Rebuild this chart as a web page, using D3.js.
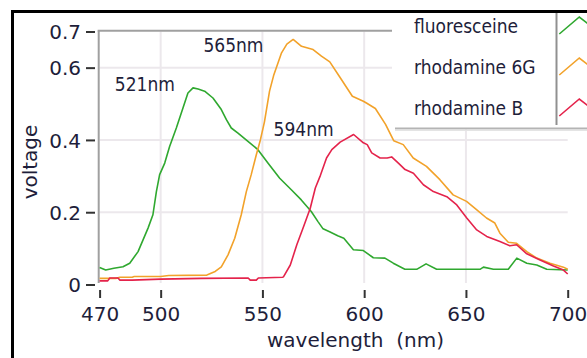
<!DOCTYPE html>
<html>
<head>
<meta charset="utf-8">
<script src="https://cdn.jsdelivr.net/npm/d3@7"></script>
<style>
  html, body { margin: 0; padding: 0; background: #fff; }
  svg { display: block; }
</style>
</head>
<body>
<svg id="chart" width="587" height="358"></svg>
<script>
// values: [wavelength nm, voltage]
var fluoresceine = [[470,.047],[473,.040],[477,.045],[481.5,.049],[484.8,.059],[488.9,.091],[493.8,.156],[496.2,.193],
  [497.9,.257],[499.5,.304],[502,.336],[504.4,.382],[507.7,.433],[511,.489],[513.4,.530],[515.9,.544],[518.4,.541],
  [521.6,.535],[525.7,.516],[529.8,.484],[532.3,.456],[534.7,.433],[538,.419],[542.9,.396],[547.8,.373],[552.7,.336],
  [558.5,.294],[564.2,.262],[569.1,.234],[574,.202],[577.3,.174],[579.8,.154],[583,.146],[587,.135],[590,.128],
  [594.7,.096],[599.6,.094],[604.5,.074],[610.2,.073],[614.3,.059],[620,.042],[625.8,.042],[630.4,.057],[635.6,.042],
  [656.9,.042],[658.6,.048],[663.5,.042],[670.8,.042],[675,.073],[679.9,.059],[684.8,.054],[689.7,.042],[700,.040]];
var rhodamine6G = [[470,.017],[478,.017],[480,.020],[486,.020],[487,.022],[500,.022],[504,.025],[522.7,.026],
  [526.8,.036],[529.8,.049],[533.1,.082],[536.4,.128],[539.6,.193],[542.1,.257],[544.5,.304],[547,.359],[549,.40],
  [551,.45],[553.5,.535],[555.5,.578],[559.4,.641],[562,.665],[565.1,.678],[569.2,.659],[574.9,.650],[579,.632],
  [583.1,.616],[588,.574],[594.2,.521],[599.6,.507],[601.1,.502],[605.5,.487],[610.5,.443],[614.5,.398],[619.2,.387],
  [624.1,.350],[630.6,.327],[637.2,.290],[643.7,.248],[650.3,.230],[655.2,.207],[660.1,.184],[664.2,.170],[666.7,.142],
  [670.8,.117],[674.9,.114],[679.9,.091],[684.8,.073],[691.3,.059],[697.9,.048],[700,.042]];
var rhodamineB = [[470,.010],[474,.010],[475,.018],[479,.018],[480,.012],[486,.012],[500,.015],[520,.017],[543,.018],
  [544,.012],[547,.012],[548,.018],[560,.020],[560.4,.022],[563.7,.054],[566.9,.110],[570.2,.160],[573.5,.211],
  [576,.267],[578.5,.302],[581.5,.350],[584.1,.373],[588.2,.394],[594.8,.415],[599.6,.392],[601.5,.387],[603.7,.364],
  [607.8,.350],[611.3,.350],[613.5,.353],[616.8,.336],[620.1,.318],[624.2,.308],[629.1,.276],[634,.257],[640.6,.243],
  [645.5,.220],[650.4,.184],[655.3,.151],[660.2,.133],[666.7,.119],[671.6,.107],[674.9,.110],[679.9,.085],[686.4,.068],
  [693,.051],[697.9,.040],[700,.029]];

var SERIES_NAMES = ['fluoresceine', 'rhodamine 6G', 'rhodamine B'];
var SERIES_COLORS = ['#2fa82f', '#f2a22a', '#e4234b'];
var X_TICKS = [470, 500, 550, 600, 650, 700];
var Y_TICKS = [0, 0.2, 0.4, 0.6, 0.7];
var X_GRID = [500, 550, 600, 650];
var Y_GRID = [0.2, 0.4, 0.6];
// peak labels: [text, wavelength, voltage] position of label
var PEAK_LABELS = [['521nm', 477.5, 0.535], ['565nm', 521, 0.643], ['594nm', 555.5, 0.410]];

var TEXTCOL = '#1e1e3a';
var svg = d3.select('#chart');
var x = d3.scaleLinear().domain([470, 700]).range([99.6, 567.7]);
var y = d3.scaleLinear().domain([0, 0.7]).range([284.5, 31.5]);

// outer frame (black, runs off the right/bottom)
svg.append('rect').attr('x', 12.5).attr('y', 11.5).attr('width', 600).attr('height', 400)
  .style('fill', 'none').style('stroke', '#000').style('stroke-width', 3);

// grid
var grid = svg.append('g');
grid.selectAll('.vg').data(X_GRID).enter().append('line')
  .attr('x1', function(d) { return x(d); }).attr('x2', function(d) { return x(d); })
  .attr('y1', y(0.7)).attr('y2', 283)
  .style('stroke', '#ece8ec').style('stroke-width', 2);
grid.selectAll('.hg').data(Y_GRID).enter().append('line')
  .attr('x1', x(470)).attr('x2', x(700))
  .attr('y1', function(d) { return y(d); }).attr('y2', function(d) { return y(d); })
  .style('stroke', '#ece8ec').style('stroke-width', 2);

// plot frame: left and top only
svg.append('line').attr('x1', 98.7).attr('x2', 98.7).attr('y1', 30.5).attr('y2', 283)
  .style('stroke', '#a0a0a0').style('stroke-width', 2);
svg.append('line').attr('x1', 97.7).attr('x2', 392).attr('y1', 30.7).attr('y2', 30.7)
  .style('stroke', '#a0a0a0').style('stroke-width', 2);

// axes (ticks detached from frame)
var yAxis = svg.append('g').attr('transform', 'translate(95,0)')
  .call(d3.axisLeft(y).tickValues(Y_TICKS).tickSize(9).tickPadding(5)
    .tickFormat(function(d) { return d === 0 ? '0' : d3.format('.1f')(d); }));
var xAxis = svg.append('g').attr('transform', 'translate(0,290)')
  .call(d3.axisBottom(x).tickValues(X_TICKS).tickSize(8).tickPadding(9).tickFormat(d3.format('d')));
[yAxis, xAxis].forEach(function(a) {
  a.select('.domain').remove();
  a.selectAll('line').style('stroke', '#333').style('stroke-width', 2);
  a.selectAll('text').style('font-family', '"DejaVu Sans", Verdana, sans-serif')
    .style('font-size', '20px').style('fill', TEXTCOL);
});
yAxis.selectAll('text').attr('dy', '0.36em');

// curves
var line = d3.line().x(function(d) { return x(d[0]); }).y(function(d) { return y(d[1]); });
[fluoresceine, rhodamine6G, rhodamineB].forEach(function(s, i) {
  svg.append('path').datum(s).attr('d', line)
    .style('fill', 'none').style('stroke', SERIES_COLORS[i]).style('stroke-width', 1.6)
    .style('stroke-linejoin', 'round');
});

// peak labels
svg.selectAll('.peak').data(PEAK_LABELS).enter().append('text')
  .attr('x', function(d) { return x(d[1]); }).attr('y', function(d) { return y(d[2]); })
  .text(function(d) { return d[0]; })
  .style('font-family', '"DejaVu Sans Condensed", "Liberation Sans", sans-serif')
  .style('font-size', '19px').style('fill', TEXTCOL);

// axis titles
svg.append('text').attr('x', 267).attr('y', 347).text('wavelength  (nm)')
  .style('white-space', 'pre')
  .style('font-family', '"DejaVu Sans", Verdana, sans-serif').style('font-size', '20px').style('fill', TEXTCOL);
svg.append('text').attr('transform', 'translate(37,162) rotate(-90)').attr('text-anchor', 'middle')
  .text('voltage')
  .style('font-family', '"DejaVu Sans", Verdana, sans-serif').style('font-size', '20px').style('fill', TEXTCOL);

// legend
var leg = svg.append('g');
leg.append('rect').attr('x', 392).attr('y', 13).attr('width', 200).attr('height', 115).style('fill', '#fff');
leg.append('line').attr('x1', 395).attr('x2', 587).attr('y1', 128.5).attr('y2', 128.5)
  .style('stroke', '#b4b4b4').style('stroke-width', 2);
leg.append('line').attr('x1', 395).attr('x2', 587).attr('y1', 130.3).attr('y2', 130.3)
  .style('stroke', '#e4e4e4').style('stroke-width', 1.5);
leg.append('line').attr('x1', 556.5).attr('x2', 556.5).attr('y1', 13).attr('y2', 125)
  .style('stroke', '#909090').style('stroke-width', 2);
SERIES_NAMES.forEach(function(name, i) {
  var by = 33 + i * 41;
  leg.append('text').attr('x', 414).attr('y', by).text(name)
    .style('font-family', '"DejaVu Sans Condensed", "Liberation Sans", sans-serif')
    .style('font-size', '19px').style('fill', TEXTCOL);
  leg.append('polyline')
    .attr('points', [[559.3, by + 1], [579.3, by - 16], [595, by - 4]].join(' '))
    .style('fill', 'none').style('stroke', SERIES_COLORS[i]).style('stroke-width', 1.6);
});
</script>
</body>
</html>
